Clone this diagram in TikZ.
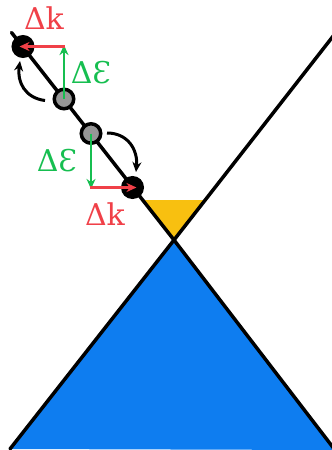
\documentclass[tikz,border=0pt]{standalone}
\usepackage{fontspec}
\setmainfont{DejaVu Serif}
\usetikzlibrary{arrows.meta}
\definecolor{cred}{RGB}{240,64,72}
\definecolor{cgreen}{RGB}{22,190,80}
\definecolor{cblue}{RGB}{14,125,240}
\definecolor{cyellow}{RGB}{248,192,16}
\definecolor{cgray}{RGB}{150,150,150}
\tikzset{
  ball/.style={circle,draw=black,line width=3.5pt,minimum size=19.5pt,inner sep=0pt},
  conel/.style={line width=3.5pt,line cap=round},
  rarrow/.style={draw=cred,line width=2.8pt,-{Stealth[length=10pt,width=9pt]}},
  garrow/.style={draw=cgreen,line width=2.8pt,-{Stealth[length=10pt,width=9pt]}},
  barrow/.style={draw=black,line width=3pt,-{Stealth[length=10pt,width=9pt]}},
  rlab/.style={text=cred,font=\fontsize{30}{32}\selectfont,inner sep=0pt},
  glab/.style={text=cgreen,font=\fontsize{30}{32}\selectfont,inner sep=0pt}
}
\begin{document}
\begin{tikzpicture}[x=1pt,y=-1pt]
\useasboundingbox (0,0) rectangle (332,450);
\coordinate (V) at (174,240);
\coordinate (TL) at (11.5,32.5);
\coordinate (TR) at (334,35);
\coordinate (BL) at (10,449);
\coordinate (BR) at (335,450);
\coordinate (YL) at (142.5,200);
\coordinate (YR) at (205.5,200);
\fill[cyellow] (V) -- (YL) -- (YR) -- cycle;
\fill[cblue] (V) -- (BL) -- (BR) -- cycle;
\draw[conel] (TL) -- (V) -- (TR);
\draw[conel] (BL) -- (V) -- (BR);
\node[ball,fill=black] (b1) at (23,46.5) {};
\node[ball,fill=cgray] (g1) at (64,99) {};
\node[ball,fill=cgray] (g2) at (91,133.5) {};
\node[ball,fill=black] (b2) at (132.5,187.5) {};
\coordinate (c1) at (64,46.5);
\coordinate (c2) at (91,187.5);
\coordinate (t1) at (19.5,46.5);
\coordinate (t2) at (136.5,187.5);
\draw[garrow] (g1.center) -- ([yshift=1.4pt]c1);
\draw[rarrow] ([xshift=1.4pt]c1) -- (t1);
\draw[garrow] (g2.center) -- ([yshift=-1.4pt]c2);
\draw[rarrow] ([xshift=-1.4pt]c2) -- (t2);
\coordinate (a1s) at (45,100.5);
\coordinate (a1e) at (20,61);
\draw[barrow] (a1s) .. controls (25,98) and (17,82) .. (a1e);
\coordinate (a2s) at (107,133);
\coordinate (a2e) at (136,172);
\draw[barrow] (a2s) .. controls (128,133) and (138,150) .. (a2e);
\node[rlab] (l1) at (44,18) {Δk};
\node[glab] (l2) at (91,73) {ΔƐ};
\node[glab] (l3) at (57,161) {ΔƐ};
\node[rlab] (l4) at (105,214) {Δk};
\end{tikzpicture}
\end{document}
